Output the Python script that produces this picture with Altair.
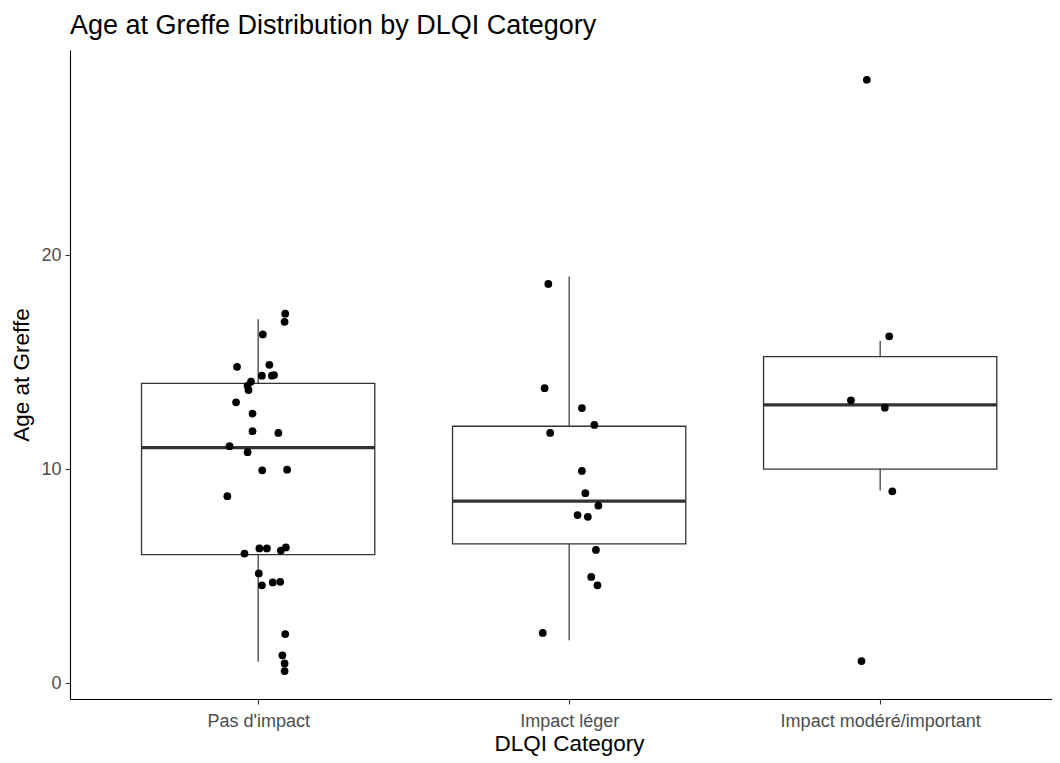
import json
import altair as alt
import pandas as pd

# ---------------- data ----------------
categories = ["Pas d'impact", "Impact léger", "Impact modéré/important"]

# boxplot statistics
box_q1 = [6.0, 6.5, 10.0]
box_median = [11.0, 8.5, 13.0]
box_q3 = [14.0, 12.0, 15.25]
whisker_low = [1.0, 2.0, 9.0]
whisker_high = [17.0, 19.0, 16.0]

# jittered points: age values and horizontal jitter (category units)
age_pas = [17.26, 16.88, 16.29, 14.78, 14.87, 14.36, 14.36, 14.39, 14.09, 13.89,
           13.69, 13.12, 12.59, 11.77, 11.69, 11.07, 10.79, 9.94, 9.97, 8.73,
           6.29, 6.29, 6.34, 6.19, 6.05, 5.12, 4.57, 4.70, 4.73, 2.29,
           1.30, 0.92, 0.56]
jit_pas = [0.087, 0.085, 0.015, -0.068, 0.036, 0.012, 0.044, 0.051, -0.023, -0.034,
           -0.031, -0.071, -0.018, -0.018, 0.065, -0.092, -0.034, 0.013, 0.093, -0.099,
           0.004, 0.028, 0.089, 0.073, -0.044, 0.002, 0.012, 0.047, 0.071, 0.087,
           0.078, 0.085, 0.085]

age_leger = [18.65, 13.78, 12.85, 12.06, 11.69, 9.91, 8.87, 8.29, 7.85, 7.77,
             6.22, 4.96, 4.57, 2.34]
jit_leger = [-0.067, -0.079, 0.041, 0.081, -0.061, 0.041, 0.052, 0.094, 0.027, 0.060,
             0.086, 0.071, 0.091, -0.085]

age_modere = [28.19, 16.20, 13.21, 12.87, 8.96, 1.03]
jit_modere = [-0.043, 0.029, -0.094, 0.015, 0.039, -0.060]

# ---------------- tables ----------------
box_df = pd.DataFrame({
    "category": categories,
    "idx": list(range(1, len(categories) + 1)),
    "q1": box_q1, "median": box_median, "q3": box_q3,
    "lo": whisker_low, "hi": whisker_high,
})

pts = []
for i, (ages, jits) in enumerate([(age_pas, jit_pas), (age_leger, jit_leger), (age_modere, jit_modere)]):
    for a, j in zip(ages, jits):
        pts.append({"category": categories[i], "idx": i + 1, "age": a, "jit": j})
pts_df = pd.DataFrame(pts)

# ---------------- scales / axes ----------------
FONT = "Liberation Sans"
label_expr = json.dumps(categories) + "[datum.value - 1]"

xscale = alt.Scale(domain=[0.395, 3.5525], nice=False, zero=False)
yscale = alt.Scale(domain=[-0.744, 29.58], nice=False, zero=False)

xaxis = alt.Axis(values=[1, 2, 3], labelExpr=label_expr, title="DLQI Category",
                 grid=False, tickSize=5, tickColor="#333333", tickWidth=1.1,
                 domainColor="black", domainWidth=1.1,
                 labelFont=FONT, labelFontSize=18, labelColor="#4D4D4D",
                 labelBaseline="alphabetic", labelPadding=22, labelFlush=False,
                 labelOverlap=False, labelLimit=0,
                 titleFont=FONT, titleFontSize=22.5, titleFontWeight="normal",
                 titleColor="black", titleBaseline="alphabetic", titleY=51, titleX=499)
yaxis = alt.Axis(values=[0, 10, 20], title="Age at Greffe", grid=False,
                 tickSize=5, tickColor="#333333", tickWidth=1.1,
                 domainColor="black", domainWidth=1.1,
                 labelFont=FONT, labelFontSize=18, labelColor="#4D4D4D", labelPadding=4,
                 titleFont=FONT, titleFontSize=22.5, titleFontWeight="normal",
                 titleColor="black", titleBaseline="alphabetic", titleX=-42, titleAngle=-90)


def X(field):
    return alt.X(field, type="quantitative", scale=xscale, axis=xaxis)


def Y(field):
    return alt.Y(field, type="quantitative", scale=yscale, axis=yaxis)


base_box = alt.Chart(box_df).transform_calculate(
    x0="datum.idx - 0.375", x1="datum.idx + 0.375"
)

whisk_low = base_box.mark_rule(color="#333333", strokeWidth=1.2).encode(
    x=X("idx"), y=Y("lo"), y2="q1:Q")
whisk_high = base_box.mark_rule(color="#333333", strokeWidth=1.2).encode(
    x=X("idx"), y=Y("q3"), y2="hi:Q")
boxes = base_box.mark_rect(fill="white", stroke="#333333", strokeWidth=1.3).encode(
    x=X("x0"), x2="x1:Q", y=Y("q1"), y2="q3:Q")
medians = base_box.mark_rule(color="#333333", strokeWidth=3.4).encode(
    x=X("x0"), x2="x1:Q", y=Y("median"))

points = alt.Chart(pts_df).transform_calculate(
    xp="datum.idx + datum.jit"
).mark_circle(size=60, color="black", opacity=1).encode(
    x=X("xp"), y=Y("age"))

chart = alt.layer(whisk_low, whisk_high, boxes, medians, points).properties(
    width=982, height=649,
    autosize=alt.AutoSizeParams(type="none"),
    padding={"left": 62, "top": 42, "right": 0, "bottom": 57},
    title=alt.TitleParams("Age at Greffe Distribution by DLQI Category", anchor="start",
                          frame="group", font=FONT, fontSize=27, fontWeight="normal",
                          color="black", baseline="alphabetic", offset=18, dy=29),
).configure(background="white").configure_view(stroke=None)

chart.save("out.html", embed_options={"renderer": "svg", "actions": False})
